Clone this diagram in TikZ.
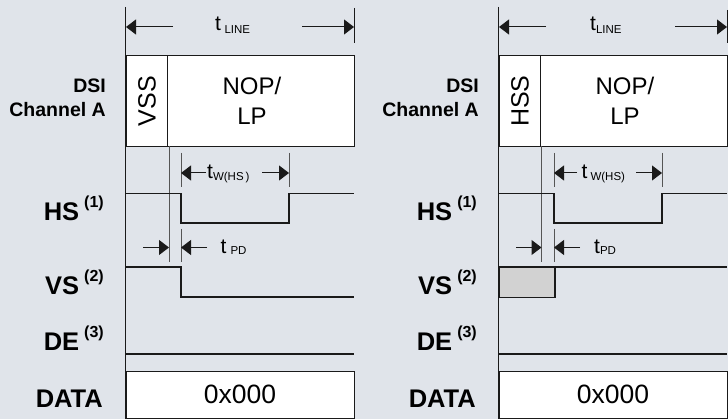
\documentclass[tikz,border=0pt]{standalone}
\usepackage{fontspec}
\setmainfont{Liberation Sans}
\usetikzlibrary{arrows.meta}
\definecolor{bg}{HTML}{E0E4EA}
\definecolor{ink}{HTML}{1A1A1A}
\definecolor{tick}{HTML}{555555}
\definecolor{undef}{HTML}{D2D2D2}
\newcommand{\fsz}[1]{\fontsize{#1}{#1}\selectfont}
\begin{document}
\begin{tikzpicture}[x=1pt,y=-1pt,
  sig/.style={draw=ink,line width=1.5pt,line join=miter},
  boxst/.style={draw=ink,line width=1.4pt,fill=white},
  axis/.style={draw=ink,line width=1pt},
  tickl/.style={draw=tick,line width=0.8pt},
  dim/.style={draw=ink,line width=1pt,-{Triangle[length=10pt,width=15pt]}},
  lab/.style={inner sep=0pt,font=\bfseries\fsz{19.5}},
  big/.style={inner sep=0pt,font=\bfseries\fsz{25.5}},
  txt/.style={inner sep=0pt}]
\fill[bg] (0,0) rectangle (728,419);
\useasboundingbox (0,0) rectangle (728,419);

% ================= LEFT PANEL =================
\node[lab,anchor=base east] (dsiL) at (106,92.7) {DSI};
\node[lab,anchor=base east] (chaL) at (106,116.7) {Channel A};
\node[big,anchor=base east] (hsL) at (104,221) {HS\hspace{5pt}\raisebox{13pt}{\fsz{16}(1)}};
\node[big,anchor=base east] (vsL) at (104,295) {VS\hspace{5pt}\raisebox{13pt}{\fsz{16}(2)}};
\node[big,anchor=base east] (deL) at (104,351) {DE\hspace{5pt}\raisebox{13pt}{\fsz{16}(3)}};
\node[big,anchor=base east] (daL) at (103,407) {DATA};

% DSI box
\node[boxst,minimum width=41.5pt,minimum height=91pt,anchor=north west,inner sep=0pt] (vssL) at (125.5,55) {};
\node[boxst,minimum width=187pt,minimum height=91pt,anchor=north west,inner sep=0pt] (nopL) at (167,55) {};
\node[txt,rotate=90,font=\fsz{25}] (vssT) at (vssL.center) {VSS};
\node[txt,align=center,font=\fontsize{24}{30}\selectfont] (nopT) at (252,101) {NOP/\\LP};

% DATA box
\node[boxst,minimum width=228.5pt,minimum height=47pt,anchor=north west,inner sep=0pt] (dbL) at (125.5,371) {};
\node[txt,anchor=base,font=\fsz{26.5}] (dtL) at (240,403) {0x000};

% main vertical axis and ticks
\coordinate (axTL) at (125.5,7);
\coordinate (axBL) at (125.5,419);
\draw[axis] (axTL) -- (axBL);
\coordinate (rtTL) at (354,8);
\coordinate (rtBL) at (354,43);
\draw[axis] (rtTL) -- (rtBL);

% t_LINE
\coordinate (tlA) at (173,27); \coordinate (tlAt) at (126,27);
\coordinate (tlB) at (302,27); \coordinate (tlBt) at (354,27);
\draw[dim] (tlA) -- (tlAt);
\draw[dim] (tlB) -- (tlBt);
\node[txt,anchor=base west] (tlT) at (215,31) {\fsz{21}t\hspace{3.5pt}\raisebox{-3pt}{\fsz{11.5}LINE}};

% thin lines
\coordinate (v1a) at (169,146); \coordinate (v1b) at (169,262);
\draw[tickl] (v1a) -- (v1b);
\coordinate (w1a) at (181,153); \coordinate (w1b) at (181,187);
\coordinate (w2a) at (289,153); \coordinate (w2b) at (289,187);
\draw[tickl] (w1a) -- (w1b);
\draw[tickl] (w2a) -- (w2b);
\coordinate (p1a) at (181,229); \coordinate (p1b) at (181,262);
\draw[tickl] (p1a) -- (p1b);

% t_W(HS)
\coordinate (twA) at (206,173); \coordinate (twAt) at (181,173);
\coordinate (twB) at (262,173); \coordinate (twBt) at (289,173);
\draw[dim] (twA) -- (twAt);
\draw[dim] (twB) -- (twBt);
\node[txt,anchor=base west] (twT) at (207,179) {\fsz{21}t\raisebox{-2pt}{\fsz{11.5}W(HS\,)}};

% HS signal
\draw[sig] (125.5,193.5) -- (181,193.5) -- (181,223) -- (289,223) -- (289,193.5) -- (354,193.5);

% t_PD
\coordinate (pdA) at (143,247.5); \coordinate (pdAt) at (169,247.5);
\coordinate (pdB) at (207,247.5); \coordinate (pdBt) at (181,247.5);
\draw[dim] (pdA) -- (pdAt);
\draw[dim] (pdB) -- (pdBt);
\node[txt,anchor=base west] (pdT) at (220.5,254) {\fsz{21}t\hspace{4pt}\raisebox{-1pt}{\fsz{11.5}PD}};

% VS signal
\draw[sig] (125.5,267) -- (181,267) -- (181,297) -- (354,297);
% DE signal
\draw[sig] (125.5,354) -- (354,354);

% ================= RIGHT PANEL =================
\node[lab,anchor=base east] (dsiR) at (479,92.7) {DSI};
\node[lab,anchor=base east] (chaR) at (479,116.7) {Channel A};
\node[big,anchor=base east] (hsR) at (477,221) {HS\hspace{5pt}\raisebox{13pt}{\fsz{16}(1)}};
\node[big,anchor=base east] (vsR) at (477,295) {VS\hspace{5pt}\raisebox{13pt}{\fsz{16}(2)}};
\node[big,anchor=base east] (deR) at (477,351) {DE\hspace{5pt}\raisebox{13pt}{\fsz{16}(3)}};
\node[big,anchor=base east] (daR) at (476,407) {DATA};

\node[boxst,minimum width=41.5pt,minimum height=91pt,anchor=north west,inner sep=0pt] (hssR) at (498.5,55) {};
\node[boxst,minimum width=187pt,minimum height=91pt,anchor=north west,inner sep=0pt] (nopR) at (540,55) {};
\node[txt,rotate=90,font=\fsz{25}] (hssT) at (hssR.center) {HSS};
\node[txt,align=center,font=\fontsize{24}{30}\selectfont] (nopTR) at (625,101) {NOP/\\LP};

\node[boxst,minimum width=228.5pt,minimum height=47pt,anchor=north west,inner sep=0pt] (dbR) at (498.5,371) {};
\node[txt,anchor=base,font=\fsz{26.5}] (dtR) at (613,403) {0x000};

% VS undefined region
\node[draw=ink,line width=1.5pt,fill=undef,minimum width=55.5pt,minimum height=30pt,anchor=north west,inner sep=0pt] (undR) at (498.5,267) {};

\coordinate (axTR) at (498.5,7);
\coordinate (axBR) at (498.5,419);
\draw[axis] (axTR) -- (axBR);
\coordinate (rtTR) at (727,10);
\coordinate (rtBR) at (727,43);
\draw[axis] (rtTR) -- (rtBR);

\coordinate (tlAR) at (546,27); \coordinate (tlAtR) at (499,27);
\coordinate (tlBR) at (675,27); \coordinate (tlBtR) at (727,27);
\draw[dim] (tlAR) -- (tlAtR);
\draw[dim] (tlBR) -- (tlBtR);
\node[txt,anchor=base west] (tlTR) at (590,31) {\fsz{21}t\raisebox{-3pt}{\fsz{11.5}LINE}};

\coordinate (v1aR) at (541.5,146); \coordinate (v1bR) at (541.5,262);
\draw[tickl] (v1aR) -- (v1bR);
\coordinate (w1aR) at (554,153); \coordinate (w1bR) at (554,187);
\coordinate (w2aR) at (662,153); \coordinate (w2bR) at (662,187);
\draw[tickl] (w1aR) -- (w1bR);
\draw[tickl] (w2aR) -- (w2bR);
\coordinate (p1aR) at (554,229); \coordinate (p1bR) at (554,262);
\draw[tickl] (p1aR) -- (p1bR);

\coordinate (twAR) at (577,173); \coordinate (twAtR) at (554,173);
\coordinate (twBR) at (636,173); \coordinate (twBtR) at (662,173);
\draw[dim] (twAR) -- (twAtR);
\draw[dim] (twBR) -- (twBtR);
\node[txt,anchor=base west] (twTR) at (581.5,179) {\fsz{21}t\hspace{3pt}\raisebox{-2pt}{\fsz{11.5}W(HS)}};

\draw[sig] (498.5,193.5) -- (554,193.5) -- (554,223) -- (662,223) -- (662,193.5) -- (727,193.5);

\coordinate (pdAR) at (516,247.5); \coordinate (pdAtR) at (541.5,247.5);
\coordinate (pdBR) at (580,247.5); \coordinate (pdBtR) at (554,247.5);
\draw[dim] (pdAR) -- (pdAtR);
\draw[dim] (pdBR) -- (pdBtR);
\node[txt,anchor=base west] (pdTR) at (594,254) {\fsz{21}t\raisebox{-1pt}{\fsz{11.5}PD}};

\draw[sig] (498.5,267) -- (727,267);
\draw[sig] (498.5,354) -- (727,354);
\end{tikzpicture}
\end{document}
